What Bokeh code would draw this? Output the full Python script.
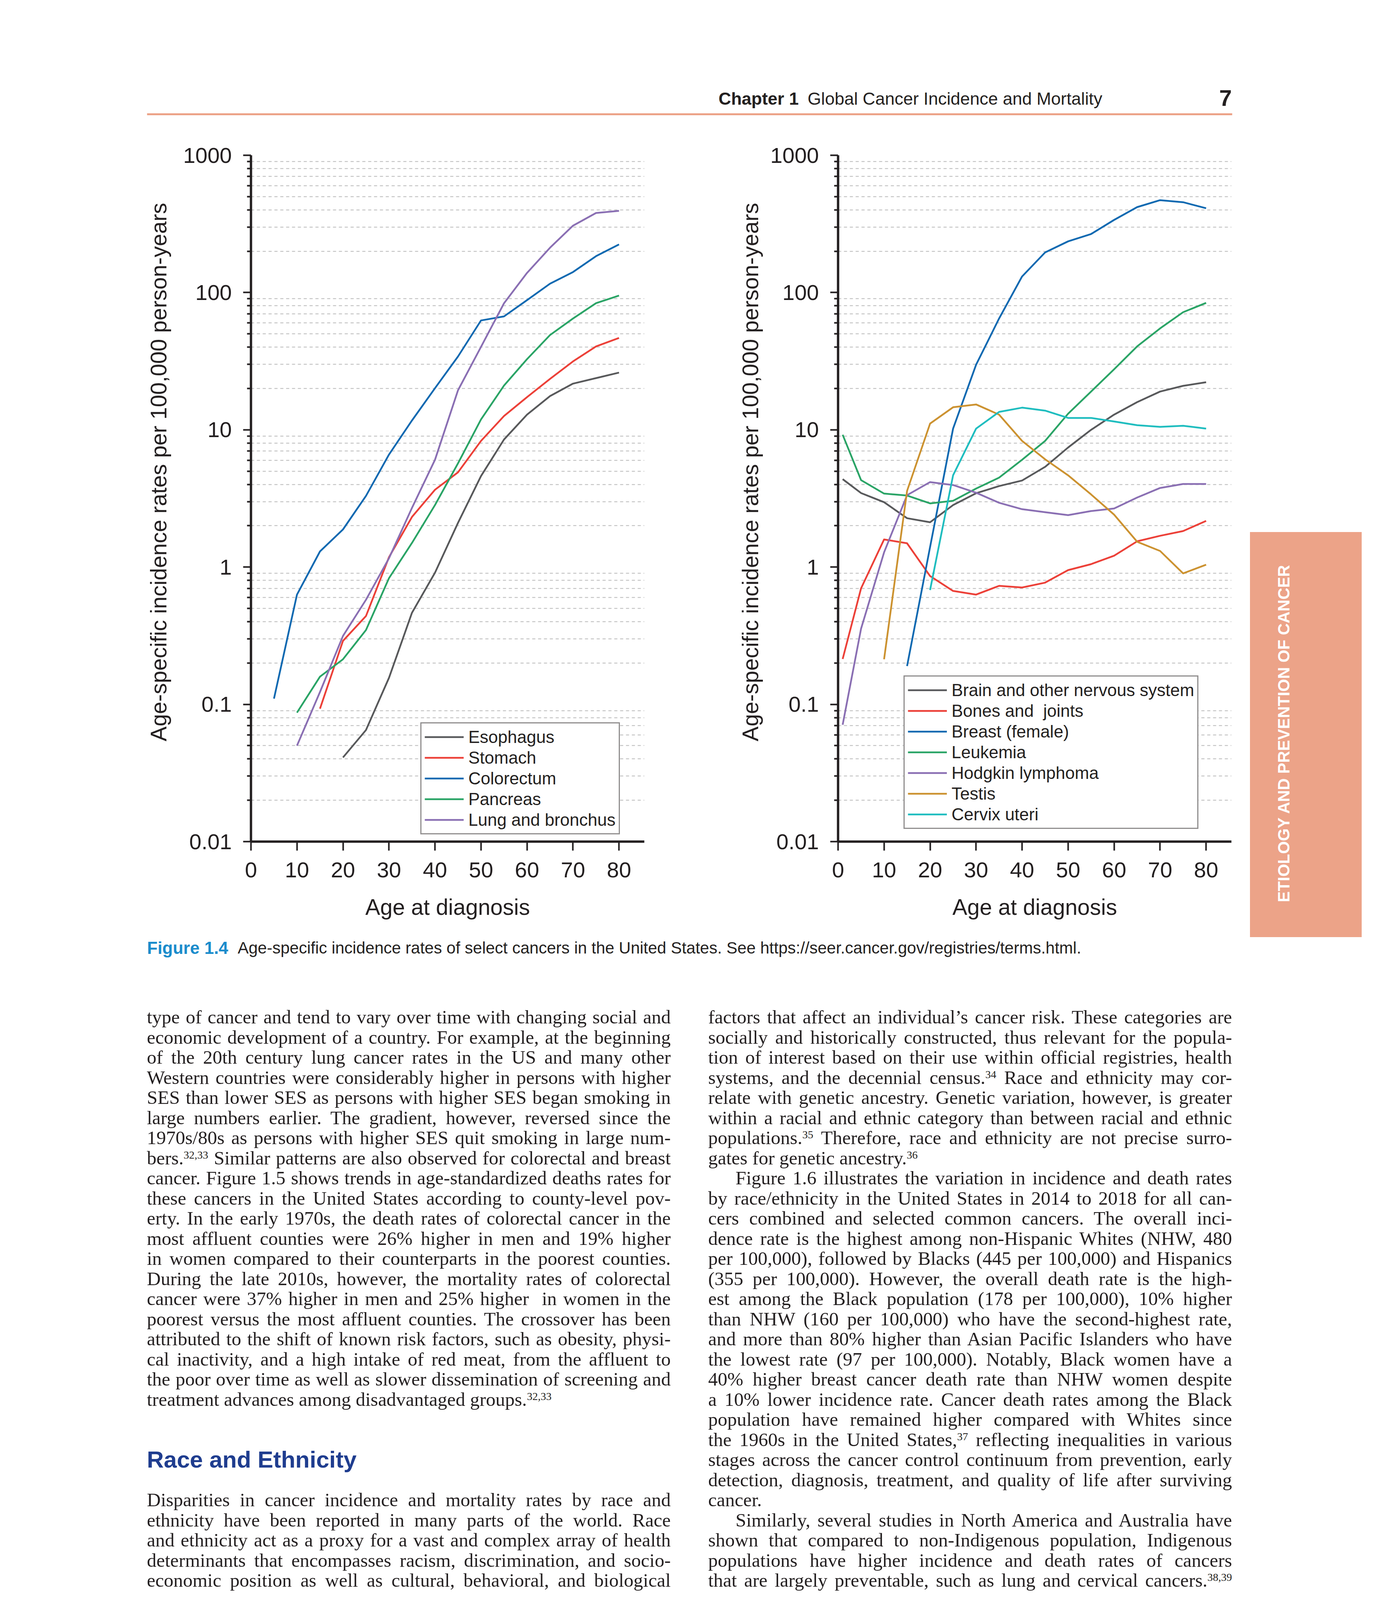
import numpy as np
from bokeh.plotting import figure
from bokeh.layouts import column, row
from bokeh.models import (Range1d, FixedTicker, CustomJSTickFormatter, Legend,
                          LegendItem, Div, Spacer)
from bokeh.core.properties import value
from bokeh.embed import file_html
from bokeh.resources import INLINE

# ---------------- data ----------------
AGES_LEFT = [5, 10, 15, 20, 25, 30, 35, 40, 45, 50, 55, 60, 65, 70, 75, 80]
ESOPHAGUS = [None, None, None, 0.041, 0.065, 0.156, 0.465, 0.91, 2.1, 4.6, 8.5, 12.9, 17.6, 21.7, 23.8, 26.1]
STOMACH = [None, None, 0.093, 0.29, 0.44, 1.18, 2.32, 3.66, 4.9, 8.3, 12.6, 17.3, 23.5, 31.5, 40.5, 46.7]
COLORECTUM = [0.11, 0.63, 1.30, 1.88, 3.3, 6.6, 11.7, 20.1, 34.2, 62.6, 67.0, 88.0, 116.0, 141.0, 184.0, 224.0]
PANCREAS = [None, 0.087, 0.159, 0.213, 0.348, 0.83, 1.50, 2.83, 5.7, 11.9, 21.0, 32.7, 49.0, 64.7, 83.6, 95.0]
LUNG = [None, 0.050, 0.123, 0.315, 0.578, 1.16, 2.7, 6.05, 19.4, 40.2, 83.5, 139.0, 212.0, 307.0, 380.0, 394.0]

AGES_RIGHT = [1, 5, 10, 15, 20, 25, 30, 35, 40, 45, 50, 55, 60, 65, 70, 75, 80]
BRAIN = [4.37, 3.46, 2.97, 2.27, 2.12, 2.83, 3.45, 3.89, 4.27, 5.37, 7.43, 10.0, 12.9, 15.9, 19.0, 20.9, 22.2]
BONES = [0.214, 0.70, 1.59, 1.49, 0.86, 0.67, 0.63, 0.73, 0.71, 0.77, 0.95, 1.05, 1.21, 1.54, 1.69, 1.83, 2.17]
BREAST = [None, None, None, 0.19, 1.4, 10.2, 29.8, 64.7, 131.0, 196.0, 236.0, 267.0, 338.0, 419.0, 471.0, 455.0, 411.0]
LEUKEMIA = [9.2, 4.3, 3.43, 3.32, 2.91, 3.04, 3.73, 4.48, 6.05, 8.3, 13.1, 19.0, 27.6, 40.5, 54.8, 71.9, 84.1]
HODGKIN = [0.071, 0.356, 1.28, 3.34, 4.16, 3.96, 3.48, 2.94, 2.64, 2.51, 2.39, 2.56, 2.67, 3.21, 3.77, 4.03, 4.03]
TESTIS = [None, None, 0.213, 3.59, 11.1, 14.6, 15.3, 12.9, 8.3, 6.1, 4.66, 3.38, 2.41, 1.53, 1.31, 0.90, 1.04]
CERVIX = [None, None, None, None, 0.68, 4.66, 10.2, 13.5, 14.5, 13.8, 12.2, 12.2, 11.5, 10.8, 10.5, 10.7, 10.2]

X_TICKS = [0, 10, 20, 30, 40, 50, 60, 70, 80]
Y_TICKS = [0.01, 0.1, 1, 10, 100, 1000]
Y_MINOR = [m * 10.0 ** e for e in range(-2, 3) for m in range(2, 10)]

X_LABEL = "Age at diagnosis"
Y_LABEL = "Age-specific incidence rates per 100,000 person-years"

HEADER_BOLD = "Chapter 1"
HEADER_TEXT = "Global Cancer Incidence and Mortality"
PAGE_NO = "7"
CAPTION_BOLD = "Figure 1.4"
CAPTION_TEXT = "Age-specific incidence rates of select cancers in the United States. See https://seer.cancer.gov/registries/terms.html."
TAB_TEXT = "ETIOLOGY AND PREVENTION OF CANCER"

# ---------------- styles ----------------
SANS = "Liberation Sans"
INK = "#231f20"
SALMON = "#eca388"
GRAY = "#58595b"
RED = "#ec4038"
BLUE = "#0f69b1"
GREEN = "#2aa466"
PURPLE = "#8a6fb3"
GOLD = "#cc9230"
CYAN = "#1fbdbf"

LEFT_SERIES = [("Esophagus", ESOPHAGUS, GRAY), ("Stomach", STOMACH, RED),
               ("Colorectum", COLORECTUM, BLUE), ("Pancreas", PANCREAS, GREEN),
               ("Lung and bronchus", LUNG, PURPLE)]
RIGHT_SERIES = [("Brain and other nervous system", BRAIN, GRAY), ("Bones and  joints", BONES, RED),
                ("Breast (female)", BREAST, BLUE), ("Leukemia", LEUKEMIA, GREEN),
                ("Hodgkin lymphoma", HODGKIN, PURPLE), ("Testis", TESTIS, GOLD),
                ("Cervix uteri", CERVIX, CYAN)]

FRAME_TOP, FRAME_BOTTOM = 405, 2162       # page pixels of the chart frames
ROW_TOP, ROW_BOTTOM = 360, 2410


def make_chart(series, ages, width, left_border, right_border, legend_xy):
    p = figure(width=width, height=ROW_BOTTOM - ROW_TOP, x_range=Range1d(0, 85.5),
               y_range=Range1d(0.01, 1000),
               y_axis_type="log", output_backend="svg", toolbar_location=None,
               min_border_left=left_border, min_border_right=right_border,
               min_border_top=FRAME_TOP - ROW_TOP, min_border_bottom=ROW_BOTTOM - FRAME_BOTTOM)
    p.outline_line_color = None
    p.background_fill_color = "white"
    p.border_fill_color = "white"

    xa = p.xaxis[0]
    ya = p.yaxis[0]
    xa.ticker = FixedTicker(ticks=X_TICKS)
    yt = FixedTicker(ticks=Y_TICKS, minor_ticks=Y_MINOR)
    ya.ticker = yt
    ya.formatter = CustomJSTickFormatter(code="return String(Number(tick.toPrecision(3)));")
    for ax in (xa, ya):
        ax.axis_line_color = INK
        ax.axis_line_width = 6
        ax.major_tick_line_color = INK
        ax.major_tick_line_width = 4
        ax.major_tick_in = 0
        ax.minor_tick_line_color = INK
        ax.minor_tick_line_width = 4
        ax.minor_tick_in = 0
        ax.major_label_text_font = SANS
        ax.major_label_text_font_size = "56px"
        ax.major_label_text_color = INK
        ax.axis_label_text_font = SANS
        ax.axis_label_text_font_size = "57px"
        ax.axis_label_text_font_style = "normal"
        ax.axis_label_text_color = INK
    xa.minor_tick_line_color = None
    xa.major_tick_out = 23
    xa.major_label_standoff = 30
    xa.axis_label = X_LABEL
    xa.axis_label_standoff = 41
    ya.major_tick_out = 20
    ya.minor_tick_out = 10
    ya.major_label_standoff = 29

    p.xgrid.grid_line_color = None
    p.ygrid.ticker = yt
    p.ygrid.grid_line_color = None
    p.ygrid.minor_grid_line_color = "#b9b9b9"
    p.ygrid.minor_grid_line_width = 2
    p.ygrid.minor_grid_line_dash = "8 7"

    items = []
    for name, vals, color in series:
        r = p.line(ages, np.array(vals, dtype=float), line_color=color, line_width=4.5,
                   line_join="round")
        items.append(LegendItem(label=name, renderers=[r]))
    leg = Legend(items=items, location=legend_xy, orientation="vertical",
                 label_text_font=SANS, label_text_font_size="44px", label_text_color=INK,
                 glyph_width=100, glyph_height=53, label_height=53, label_standoff=12,
                 spacing=0, padding=8, margin=0,
                 border_line_color=INK, border_line_width=3,
                 background_fill_color="white", background_fill_alpha=1.0)
    p.add_layout(leg)
    return p


def canvas(x0, x1, y0, y1, border_top=0, border_bottom=0):
    p = figure(width=x1 - x0, height=(y1 - y0) + border_top + border_bottom,
               x_range=Range1d(x0, x1), y_range=Range1d(y1, y0),
               output_backend="svg", toolbar_location=None, min_border=0,
               min_border_top=border_top, min_border_bottom=border_bottom,
               x_axis_location=None, y_axis_location=None)
    p.grid.visible = False
    p.outline_line_color = None
    p.background_fill_color = "white"
    p.border_fill_color = "white"
    return p


def ytitle(x0, x1, xc):
    # narrow panel holding the rotated y title; its frame lines up with the chart frame
    p = canvas(x0, x1, FRAME_TOP, FRAME_BOTTOM, FRAME_TOP - ROW_TOP, ROW_BOTTOM - FRAME_BOTTOM)
    p.text(x=[xc], y=[1216], text=[Y_LABEL], angle=np.pi / 2, text_font=value(SANS),
           text_font_size="57px", text_color=INK, text_align="center", text_baseline="middle")
    return p


# ---------------- header ----------------
header = canvas(8, 3530, 8, 360)
header.text(x=[1847], y=[260], text=[HEADER_BOLD], text_font=value(SANS), text_font_size="44.5px",
            text_font_style="bold", text_color=INK, text_baseline="middle", text_align="left")
header.text(x=[2075], y=[260], text=[HEADER_TEXT], text_font=value(SANS), text_font_size="44.5px",
            text_color=INK, text_baseline="middle", text_align="left")
header.text(x=[3145], y=[258], text=[PAGE_NO], text_font=value(SANS), text_font_size="58px",
            text_font_style="bold", text_color=INK, text_baseline="middle", text_align="center")
header.segment(x0=[384], y0=[300], x1=[3162], y1=[300], line_color=SALMON, line_width=5)

# ---------------- charts ----------------
left_title = ytitle(8, 470, 413)
left = make_chart(LEFT_SERIES, AGES_LEFT, 1700 - 470, 650 - 470, 43, (434, 18))
right_title = ytitle(1700, 1975, 1928)
right = make_chart(RIGHT_SERIES, AGES_RIGHT, 3200 - 1975, 2153 - 1975, 40, (168, 32))

TAB_HTML = (
    '<div style="position:relative;width:330px;height:2050px;">'
    '<div style="position:absolute;left:8px;top:1010px;width:286px;height:1037px;background:%s;"></div>'
    '<div style="position:absolute;left:95px;top:1526px;transform:translate(-50%%,-50%%) rotate(-90deg);'
    'white-space:nowrap;color:white;font-family:\'Liberation Sans\';font-weight:bold;font-size:42px;'
    'line-height:1;">%s</div></div>' % (SALMON, TAB_TEXT))
side = Div(text=TAB_HTML, width=330, height=ROW_BOTTOM - ROW_TOP, margin=0)

# ---------------- caption ----------------
cap = canvas(8, 3530, 2410, 2480)
cap.text(x=[384], y=[2434], text=[CAPTION_BOLD], text_font=value(SANS), text_font_size="44px",
         text_font_style="bold", text_color="#1a8ccc", text_baseline="middle", text_align="left")
cap.text(x=[616], y=[2434], text=[CAPTION_TEXT], text_font=value(SANS), text_font_size="42px",
         text_color=INK, text_baseline="middle", text_align="left")

# ---------------- body text ----------------
LEFT_LINES = [
    ("j", "type of cancer and tend to vary over time with changing social and"),
    ("j", "economic development of a country. For example, at the beginning"),
    ("j", "of the 20th century lung cancer rates in the US and many other"),
    ("j", "Western countries were considerably higher in persons with higher"),
    ("j", "SES than lower SES as persons with higher SES began smoking in"),
    ("j", "large numbers earlier. The gradient, however, reversed since the"),
    ("j", "1970s/80s as persons with higher SES quit smoking in large num-"),
    ("j", "bers.<sup>32,33</sup> Similar patterns are also observed for colorectal and breast"),
    ("j", "cancer. Figure 1.5 shows trends in age-standardized deaths rates for"),
    ("j", "these cancers in the United States according to county-level pov-"),
    ("j", "erty. In the early 1970s, the death rates of colorectal cancer in the"),
    ("j", "most affluent counties were 26% higher in men and 19% higher"),
    ("j", "in women compared to their counterparts in the poorest counties."),
    ("j", "During the late 2010s, however, the mortality rates of colorectal"),
    ("j", "cancer were 37% higher in men and 25% higher&nbsp; in women in the"),
    ("j", "poorest versus the most affluent counties. The crossover has been"),
    ("j", "attributed to the shift of known risk factors, such as obesity, physi-"),
    ("j", "cal inactivity, and a high intake of red meat, from the affluent to"),
    ("j", "the poor over time as well as slower dissemination of screening and"),
    ("l", "treatment advances among disadvantaged groups.<sup>32,33</sup>"),
    ("b", ""),
    ("b", ""),
    ("h", "Race and Ethnicity"),
    ("b", ""),
    ("j", "Disparities in cancer incidence and mortality rates by race and"),
    ("j", "ethnicity have been reported in many parts of the world. Race"),
    ("j", "and ethnicity act as a proxy for a vast and complex array of health"),
    ("j", "determinants that encompasses racism, discrimination, and socio-"),
    ("j", "economic position as well as cultural, behavioral, and biological"),
]
RIGHT_LINES = [
    ("j", "factors that affect an individual\u2019s cancer risk. These categories are"),
    ("j", "socially and historically constructed, thus relevant for the popula-"),
    ("j", "tion of interest based on their use within official registries, health"),
    ("j", "systems, and the decennial census.<sup>34</sup> Race and ethnicity may cor-"),
    ("j", "relate with genetic ancestry. Genetic variation, however, is greater"),
    ("j", "within a racial and ethnic category than between racial and ethnic"),
    ("j", "populations.<sup>35</sup> Therefore, race and ethnicity are not precise surro-"),
    ("l", "gates for genetic ancestry.<sup>36</sup>"),
    ("i", "Figure 1.6 illustrates the variation in incidence and death rates"),
    ("j", "by race/ethnicity in the United States in 2014 to 2018 for all can-"),
    ("j", "cers combined and selected common cancers. The overall inci-"),
    ("j", "dence rate is the highest among non-Hispanic Whites (NHW, 480"),
    ("j", "per 100,000), followed by Blacks (445 per 100,000) and Hispanics"),
    ("j", "(355 per 100,000). However, the overall death rate is the high-"),
    ("j", "est among the Black population (178 per 100,000), 10% higher"),
    ("j", "than NHW (160 per 100,000) who have the second-highest rate,"),
    ("j", "and more than 80% higher than Asian Pacific Islanders who have"),
    ("j", "the lowest rate (97 per 100,000). Notably, Black women have a"),
    ("j", "40% higher breast cancer death rate than NHW women despite"),
    ("j", "a 10% lower incidence rate. Cancer death rates among the Black"),
    ("j", "population have remained higher compared with Whites since"),
    ("j", "the 1960s in the United States,<sup>37</sup> reflecting inequalities in various"),
    ("j", "stages across the cancer control continuum from prevention, early"),
    ("j", "detection, diagnosis, treatment, and quality of life after surviving"),
    ("l", "cancer."),
    ("i", "Similarly, several studies in North America and Australia have"),
    ("j", "shown that compared to non-Indigenous population, Indigenous"),
    ("j", "populations have higher incidence and death rates of cancers"),
    ("j", "that are largely preventable, such as lung and cervical cancers.<sup>38,39</sup>"),
]

LINE_H = 51.5
FIRST_LINE = 2612
BODY_TOP = 2480


def column_html(lines):
    sup = "<sup style=\"font-size:28px;line-height:0;vertical-align:0.55em;\">"
    pad = FIRST_LINE - LINE_H / 2 - BODY_TOP
    out = ["<div style=\"font-family:'Liberation Serif';font-size:49px;color:#231f20;"
           "padding-top:%.1fpx;width:1341px;\">" % pad]
    for kind, txt in lines:
        txt = txt.replace("<sup>", sup)
        base = "height:%.1fpx;line-height:%.1fpx;white-space:nowrap;" % (LINE_H, LINE_H)
        if kind == "j":
            st = base + "text-align:justify;text-align-last:justify;"
        elif kind == "i":
            st = base + "text-align:justify;text-align-last:justify;padding-left:70px;"
        elif kind == "l":
            st = base + "text-align:left;"
        elif kind == "h":
            st = base + ("font-family:'Liberation Sans';font-weight:bold;font-size:60px;"
                         "color:#1f3d8f;text-align:left;")
        else:
            st = base
            txt = "&nbsp;"
        out.append("<div style=\"%s\">%s</div>" % (st, txt))
    out.append("</div>")
    return "".join(out)


BODY_H = 4536 - BODY_TOP
left_div = Div(text=column_html(LEFT_LINES), width=1341, height=BODY_H, margin=0)
right_div = Div(text=column_html(RIGHT_LINES), width=1341, height=BODY_H, margin=0)
body = row(Spacer(width=376, height=BODY_H), left_div, Spacer(width=96, height=BODY_H), right_div,
           Spacer(width=368, height=BODY_H))

page = column(header, row(left_title, left, right_title, right, side), cap, body)

open("out.html", "w").write(file_html(page, INLINE))
